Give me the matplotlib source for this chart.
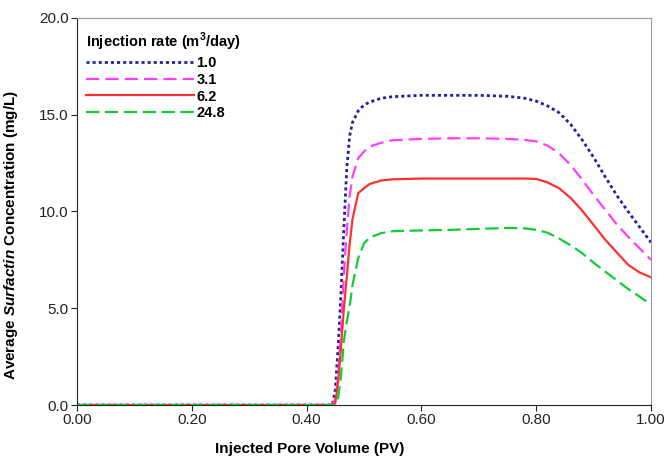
import matplotlib.pyplot as plt

plt.rcParams['font.family'] = 'Liberation Sans'
plt.rcParams['mathtext.fontset'] = 'custom'
plt.rcParams['mathtext.rm'] = 'Liberation Sans'
plt.rcParams['mathtext.bf'] = 'Liberation Sans:bold'
plt.rcParams['mathtext.bfit'] = 'Liberation Sans:italic:bold'

# injected pore volume (PV)
pv = [0.0, 0.445, 0.45, 0.455, 0.46, 0.465, 0.47, 0.475, 0.48, 0.49, 0.50, 0.51,
      0.53, 0.55, 0.60, 0.65, 0.70, 0.75, 0.78, 0.80, 0.82, 0.84, 0.86, 0.88,
      0.90, 0.92, 0.94, 0.96, 0.98, 1.00]

# average surfactin concentration (mg/L) per injection rate
c_1_0 = [0.0, 0.0, 0.8, 3.0, 5.8, 9.2, 12.2, 13.9, 14.6, 15.2, 15.5, 15.65,
         15.85, 15.93, 16.0, 16.0, 16.0, 15.95, 15.85, 15.7, 15.45, 15.1, 14.5, 13.7,
         12.8, 11.8, 10.85, 10.0, 9.2, 8.4]
c_3_1 = [0.0, 0.0, 0.3, 1.5, 3.8, 6.8, 9.0, 10.8, 11.8, 12.75, 13.1, 13.35,
         13.55, 13.68, 13.75, 13.78, 13.78, 13.75, 13.7, 13.62, 13.4, 13.0, 12.4, 11.65,
         10.85, 10.1, 9.35, 8.7, 8.1, 7.5]
c_6_2 = [0.0, 0.0, 0.1, 1.2, 3.0, 5.0, 6.6, 8.3, 9.6, 10.95, 11.2, 11.42,
         11.6, 11.66, 11.7, 11.7, 11.7, 11.7, 11.7, 11.68, 11.5, 11.2, 10.7, 10.05,
         9.3, 8.55, 7.9, 7.25, 6.85, 6.6]
c_24_8 = [0.0, 0.0, 0.0, 0.4, 1.5, 3.3, 4.3, 5.1, 6.2, 7.6, 8.35, 8.65,
          8.88, 8.98, 9.02, 9.05, 9.1, 9.15, 9.13, 9.05, 8.9, 8.6, 8.25, 7.85,
          7.35, 6.9, 6.45, 6.0, 5.6, 5.2]

rates = ['1.0', '3.1', '6.2', '24.8']

fig = plt.figure(figsize=(6.67, 4.59), dpi=100)
ax = fig.add_axes([0.1154, 0.1176, 0.8606, 0.8434])

ax.plot(pv, c_1_0, color='#22229a', lw=2.0, linestyle=(0, (1.1, 1.1)), label=rates[0])
ax.plot(pv, c_3_1, color='#ff3dff', lw=1.6, linestyle=(0, (6, 2.7)), label=rates[1])
ax.plot(pv, c_6_2, color='#ff3030', lw=1.6, linestyle='-', label=rates[2])
ax.plot(pv, c_24_8, color='#11cc33', lw=1.6, linestyle=(0, (6, 2.5)), label=rates[3])

ax.set_xlim(0, 1.0)
ax.set_ylim(0, 20)
ax.set_xticks([0, 0.2, 0.4, 0.6, 0.8, 1.0])
ax.set_xticklabels(['0.00', '0.20', '0.40', '0.60', '0.80', '1.00'])
ax.set_yticks([0, 5, 10, 15, 20])
ax.set_yticklabels(['0.0', '5.0', '10.0', '15.0', '20.0'])
ax.tick_params(direction='out', length=4, width=0.8, labelsize=11, colors='#222222',
               pad=2)

for s in ['left', 'bottom']:
    ax.spines[s].set_color('#222222')
for s in ['top', 'right']:
    ax.spines[s].set_color('#999999')

ax.set_xlabel('Injected Pore Volume (PV)', fontsize=11, fontweight='bold')
ax.set_ylabel(r'Average $\bfit{Surfactin}$ Concentration (mg/L)', fontsize=11,
              fontweight='bold')
ax.xaxis.set_label_coords(0.405, -0.095)
ax.yaxis.set_label_coords(-0.1, 0.44)

leg = ax.legend(loc='upper left', bbox_to_anchor=(0.0, 0.99), frameon=False,
                handlelength=7.4, handletextpad=0.2, labelspacing=0.2,
                title=r'Injection rate (m$^\mathbf{3}$/day)',
                title_fontproperties={'weight': 'bold', 'size': 10.5},
                prop={'weight': 'bold', 'size': 10.5}, alignment='left',
                borderaxespad=0.2)

plt.savefig('out.png')
